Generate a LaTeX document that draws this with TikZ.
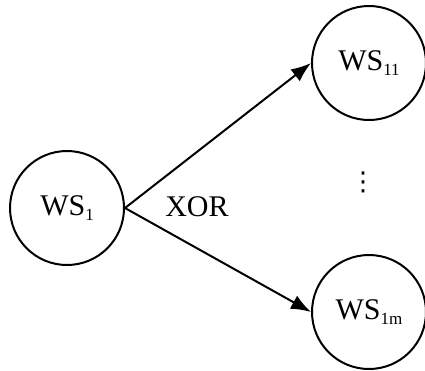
\documentclass[tikz,border=0pt]{standalone}
\usepackage{fontspec}
\setmainfont{Liberation Serif}
\newfontfamily\symfont{DejaVu Sans}
\usetikzlibrary{arrows.meta}

\newcommand{\wsname}[1]{WS\raisebox{-0.35ex}{\fontsize{17}{17}\selectfont #1}}

\begin{document}
\begin{tikzpicture}[x=1pt, y=1pt,
  service/.style={draw, circle, line width=2pt, minimum size=114pt,
    inner sep=0pt, font=\fontsize{30}{30}\selectfont},
  choice/.style={-{Latex[length=20pt, width=15pt]}, line width=2pt}]
  \useasboundingbox (0,0) rectangle (425,-370);

  %% the one service on the left and its two alternatives on the right
  \node[service] (ws1)  at (67,-208) {\wsname{1}};
  \node[service] (ws11) at (369,-63) {\wsname{11}};
  \node[service] (ws1m) at (369,-312) {\wsname{1m}};

  \draw[choice] (ws1.east) -- (ws11.west);
  \draw[choice] (ws1.east) -- (ws1m.west);

  \node[font=\fontsize{30}{30}\selectfont] (xor) at (197,-207) {XOR};
  \node[font=\symfont\fontsize{26}{26}\selectfont] (dots) at (363,-182) {⋮};
\end{tikzpicture}
\end{document}
